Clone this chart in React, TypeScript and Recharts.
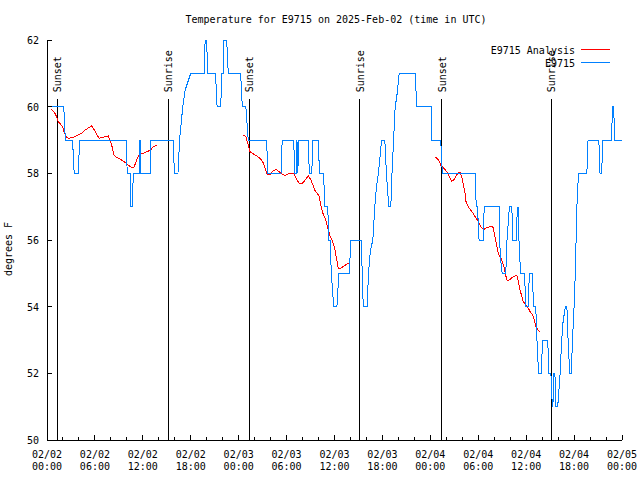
import { Legend, Line, LineChart, ReferenceLine, XAxis, YAxis } from 'recharts';

// hours since 2025-02-02 00:00 UTC, temperature in F
const stationObs: [number, number][] = [
  [0, 60], [2.1, 60], [2.3, 59], [3.2, 59], [3.4, 58], [3.9, 58], [4.1, 59], [9.9, 59],
  [10.05, 58], [10.4, 58], [10.5, 57], [10.7, 57], [10.8, 58], [11.55, 58], [11.6, 59], [11.7, 59],
  [11.75, 58], [12.9, 58], [13.0, 59], [15.8, 59], [15.95, 58], [16.4, 58], [16.6, 59], [17.0, 60],
  [17.3, 60.5], [18.0, 61], [19.7, 61], [19.8, 62], [20.0, 62], [20.1, 61], [21.1, 61], [21.3, 60],
  [21.75, 60], [21.9, 61], [22.1, 61], [22.15, 62], [22.5, 62], [22.7, 61], [24.25, 61], [24.45, 60],
  [24.9, 60], [25.2, 59], [27.5, 59], [27.65, 58], [29.3, 58], [29.45, 59], [30.9, 59], [31.0, 58],
  [31.2, 58], [31.3, 59], [31.4, 58], [31.55, 59], [32.7, 59], [32.85, 58], [33.15, 58], [33.3, 59],
  [34.0, 59], [34.1, 58], [34.65, 58], [34.75, 57], [35.15, 57], [35.3, 56], [35.45, 56], [35.6, 55],
  [35.9, 54], [36.3, 54], [36.55, 55], [37.85, 55], [38.05, 56], [39.35, 56], [39.6, 54], [40.1, 54],
  [40.25, 55], [40.5, 55.7], [40.8, 56], [41.05, 57], [41.25, 57.6], [41.5, 58], [41.7, 58.5], [41.9, 59],
  [42.3, 59], [42.5, 58], [42.8, 57], [43.05, 57], [43.2, 58], [43.4, 59], [43.6, 60], [43.8, 60.3],
  [44.1, 61], [46.1, 61], [46.3, 60], [48.1, 60], [48.2, 59], [49.3, 59], [49.5, 58], [53.6, 58],
  [53.75, 57], [53.9, 57], [54.1, 56], [54.6, 56], [54.75, 57], [56.6, 57], [56.75, 55.5], [57.0, 55],
  [57.45, 55], [57.6, 56], [57.75, 56.5], [57.9, 57], [58.2, 57], [58.35, 56], [58.75, 56], [58.9, 57],
  [59.0, 56.7], [59.05, 57], [59.1, 56], [59.3, 55], [59.8, 55], [59.95, 54], [60.25, 54], [60.4, 55],
  [60.8, 55], [60.9, 54], [61.2, 54], [61.35, 53], [61.55, 52], [61.9, 52], [62.05, 53], [62.7, 53],
  [62.85, 52], [63.1, 52], [63.2, 51.3], [63.35, 51], [63.45, 52], [63.6, 52], [63.7, 51], [63.95, 51],
  [64.25, 52], [64.45, 53], [64.6, 53.5], [64.9, 54], [65.1, 54], [65.25, 53], [65.45, 52], [65.65, 52],
  [65.8, 53], [66.0, 54], [66.15, 55], [66.25, 56], [66.35, 57], [66.55, 58], [67.6, 58], [67.75, 59],
  [69.1, 59], [69.25, 58], [69.45, 58], [69.6, 59], [70.7, 59], [70.8, 60], [70.95, 60], [71.1, 59],
  [72, 59],
];

// analysis runs, one per night
const analysisNight1: [number, number][] = [
  [0.5, 59.93], [1.0, 59.8], [1.29, 59.65], [1.42, 59.55], [1.71, 59.47], [1.96, 59.4], [2.13, 59.25],
  [2.38, 59.1], [2.67, 59.05], [3.51, 59.1], [4.34, 59.2], [4.76, 59.3], [5.59, 59.42], [5.8, 59.35],
  [6.22, 59.17], [6.55, 59.05], [7.26, 59.1], [7.68, 59.12], [7.89, 59.0], [8.1, 58.85], [8.39, 58.55],
  [8.72, 58.48], [9.55, 58.37], [10.18, 58.25], [10.6, 58.17], [10.89, 58.18], [11.23, 58.4],
  [11.56, 58.57], [12.27, 58.62], [12.98, 58.7], [13.31, 58.8], [13.73, 58.85],
];
const analysisNight2: [number, number][] = [
  [24.58, 59.15], [24.92, 59.1], [25.08, 58.95], [25.42, 58.65], [26.26, 58.52], [26.67, 58.45],
  [27.01, 58.35], [27.3, 58.15], [27.59, 57.95], [27.93, 57.97], [28.34, 58.08], [28.68, 58.12],
  [28.96, 58.07], [29.39, 57.98], [29.8, 57.93], [30.22, 57.98], [30.64, 58.0], [30.93, 57.98],
  [31.27, 57.82], [31.59, 57.7], [31.93, 57.68], [32.31, 57.8], [32.72, 57.92], [33.02, 57.82],
  [33.35, 57.62], [33.56, 57.48], [33.85, 57.4], [34.1, 57.3], [34.27, 57.05], [34.52, 56.82],
  [34.81, 56.65], [35.02, 56.5], [35.22, 56.3], [35.44, 56.12], [35.65, 56.02], [35.85, 55.9],
  [36.06, 55.7], [36.28, 55.4], [36.48, 55.15], [36.69, 55.15], [37.1, 55.2], [37.53, 55.28],
  [37.85, 55.3],
];
const analysisNight3: [number, number][] = [
  [48.58, 58.48], [48.87, 58.45], [49.12, 58.35], [49.3, 58.25], [49.55, 58.18], [49.84, 58.12],
  [50.13, 58.02], [50.38, 57.9], [50.68, 57.77], [50.88, 57.78], [51.18, 57.9], [51.5, 58.02],
  [51.72, 58.02], [51.93, 57.9], [52.13, 57.68], [52.34, 57.42], [52.47, 57.15], [52.76, 57.0],
  [52.97, 56.92], [53.31, 56.82], [53.6, 56.7], [53.84, 56.62], [54.13, 56.5], [54.43, 56.36],
  [54.72, 56.32], [55.06, 56.37], [55.47, 56.4], [55.81, 56.42], [56.1, 56.1], [56.31, 55.85],
  [56.51, 55.6], [56.94, 55.4], [57.23, 55.2], [57.48, 54.9], [57.64, 54.78], [57.98, 54.82],
  [58.39, 54.9], [58.82, 54.94], [59.02, 54.75], [59.23, 54.5], [59.44, 54.32], [59.64, 54.15],
  [59.98, 54.05], [60.27, 53.95], [60.57, 53.82], [60.82, 53.75], [61.02, 53.6], [61.23, 53.4],
  [61.45, 53.3], [61.73, 53.25],
];

const sunEvents: { hour: number; label: string }[] = [
  { hour: 1.29, label: 'Sunset' },
  { hour: 15.19, label: 'Sunrise' },
  { hour: 25.33, label: 'Sunset' },
  { hour: 39.15, label: 'Sunrise' },
  { hour: 49.42, label: 'Sunset' },
  { hour: 63.15, label: 'Sunrise' },
];

const hourTicks = [0, 2, 4, 6, 8, 10, 12, 14, 16, 18, 20, 22, 24, 26, 28, 30, 32, 34, 36, 38, 40, 42, 44, 46, 48, 50, 52, 54, 56, 58, 60, 62, 64, 66, 68, 70, 72];
const tempTicks = [50, 52, 54, 56, 58, 60, 62];

const FONT = '"DejaVu Sans Mono", monospace';
const BLUE = '#0080ff';
const RED = '#ff0000';

const obsData = stationObs.map(([t, v]) => ({ t, v }));
const analysisData = [analysisNight1, analysisNight2, analysisNight3].flatMap((seg, i, all) => {
  const pts = seg.map(([t, v]) => ({ t, v: v as number | null }));
  if (i < all.length - 1) pts.push({ t: (seg[seg.length - 1][0] + all[i + 1][0][0]) / 2, v: null });
  return pts;
});

const pad = (n: number) => String(n).padStart(2, '0');

function BottomTick({ x, y, payload }: any) {
  const h = payload.value as number;
  const major = h % 6 === 0;
  return (
    <g>
      <line x1={x} x2={x} y1={y} y2={y - (major ? 5 : 3)} stroke="#000" shapeRendering="crispEdges" />
      {major && (
        <text x={x} y={y} textAnchor="middle" fontFamily={FONT} fontSize={10} fill="#000">
          <tspan x={x} dy={18}>{`02/${pad(2 + Math.floor(h / 24))}`}</tspan>
          <tspan x={x} dy={12}>{`${pad(h % 24)}:00`}</tspan>
        </text>
      )}
    </g>
  );
}

function TopTick({ x, y, payload }: any) {
  const major = payload.value % 6 === 0;
  return <line x1={x} x2={x} y1={y} y2={y + (major ? 5 : 3)} stroke="#000" shapeRendering="crispEdges" />;
}

function LeftTick({ x, y, payload }: any) {
  return (
    <g>
      <line x1={x} x2={x + 5} y1={y} y2={y} stroke="#000" shapeRendering="crispEdges" />
      <text x={x - 8} y={y + 4} textAnchor="end" fontFamily={FONT} fontSize={10} fill="#000">
        {payload.value}
      </text>
    </g>
  );
}

function RightTick({ x, y }: any) {
  return <line x1={x} x2={x - 5} y1={y} y2={y} stroke="#000" shapeRendering="crispEdges" />;
}

function SunLabel({ viewBox, text }: any) {
  if (!viewBox) return null;
  return (
    <text
      transform={`translate(${viewBox.x + 4},${viewBox.y - 7}) rotate(-90)`}
      fontFamily={FONT}
      fontSize={10}
      fill="#000"
    >
      {text}
    </text>
  );
}

function KeyBox() {
  const rows = [
    { name: 'E9715 Analysis', color: RED },
    { name: 'E9715', color: BLUE },
  ];
  return (
    <svg width={640} height={80} style={{ display: 'block' }}>
      {rows.map((r, i) => (
        <g key={r.name}>
          <text x={575} y={53.5 + i * 13} textAnchor="end" fontFamily={FONT} fontSize={10} fill="#000">
            {r.name}
          </text>
          <line x1={581} x2={610} y1={49.5 + i * 13} y2={49.5 + i * 13} stroke={r.color} shapeRendering="crispEdges" />
        </g>
      ))}
    </svg>
  );
}

export default function App() {
  return (
    <div style={{ position: 'absolute', left: 0, top: 0, width: 640, height: 480, background: '#fff' }}>
      <LineChart width={640} height={480} margin={{ top: 40, right: 18, bottom: 0, left: 0 }}>
        <XAxis
          dataKey="t"
          type="number"
          domain={[0, 72]}
          ticks={hourTicks}
          interval={0}
          height={40}
          tickSize={0}
          tickMargin={0}
          tickLine={false}
          tick={<BottomTick />}
          axisLine={{ stroke: '#000', shapeRendering: 'crispEdges' }}
          allowDataOverflow
        />
        <XAxis
          xAxisId="top"
          orientation="top"
          type="number"
          domain={[0, 72]}
          ticks={hourTicks}
          interval={0}
          height={0}
          tickSize={0}
          tickMargin={0}
          tickLine={false}
          tick={<TopTick />}
          axisLine={{ stroke: '#000', shapeRendering: 'crispEdges' }}
        />
        <YAxis
          type="number"
          domain={[50, 62]}
          ticks={tempTicks}
          interval={0}
          width={47}
          tickSize={0}
          tickMargin={0}
          tickLine={false}
          tick={<LeftTick />}
          axisLine={{ stroke: '#000', shapeRendering: 'crispEdges' }}
          allowDataOverflow
        />
        <YAxis
          yAxisId="right"
          orientation="right"
          type="number"
          domain={[50, 62]}
          ticks={tempTicks}
          interval={0}
          width={0}
          tickSize={0}
          tickMargin={0}
          tickLine={false}
          tick={<RightTick />}
          axisLine={{ stroke: '#000', shapeRendering: 'crispEdges' }}
        />
        {sunEvents.map((s, i) => (
          <ReferenceLine
            key={i}
            segment={[{ x: s.hour, y: 50 }, { x: s.hour, y: 60.22 }]}
            stroke="#000"
            shapeRendering="crispEdges"
            label={<SunLabel text={s.label} />}
          />
        ))}
        <Line
          data={analysisData}
          dataKey="v"
          name="E9715 Analysis"
          type="linear"
          stroke={RED}
          strokeWidth={1}
          dot={false}
          activeDot={false}
          connectNulls={false}
          isAnimationActive={false}
          shapeRendering="crispEdges"
        />
        <Line
          data={obsData}
          dataKey="v"
          name="E9715"
          type="linear"
          stroke={BLUE}
          strokeWidth={1}
          dot={false}
          activeDot={false}
          isAnimationActive={false}
          shapeRendering="crispEdges"
        />
        <Legend
          layout="vertical"
          align="center"
          verticalAlign="middle"
          content={() => <KeyBox />}
          wrapperStyle={{ position: 'absolute', left: 0, top: 0, width: 640, height: 80, pointerEvents: 'none' }}
        />
      </LineChart>
      <svg width={640} height={480} style={{ position: 'absolute', left: 0, top: 0, pointerEvents: 'none' }}>
        <text x={336} y={23} textAnchor="middle" fontFamily={FONT} fontSize={10} fill="#000">
          Temperature for E9715 on 2025-Feb-02 (time in UTC)
        </text>
        <text transform="translate(12,249) rotate(-90)" textAnchor="middle" fontFamily={FONT} fontSize={10} fill="#000">
          degrees F
        </text>
      </svg>
    </div>
  );
}
